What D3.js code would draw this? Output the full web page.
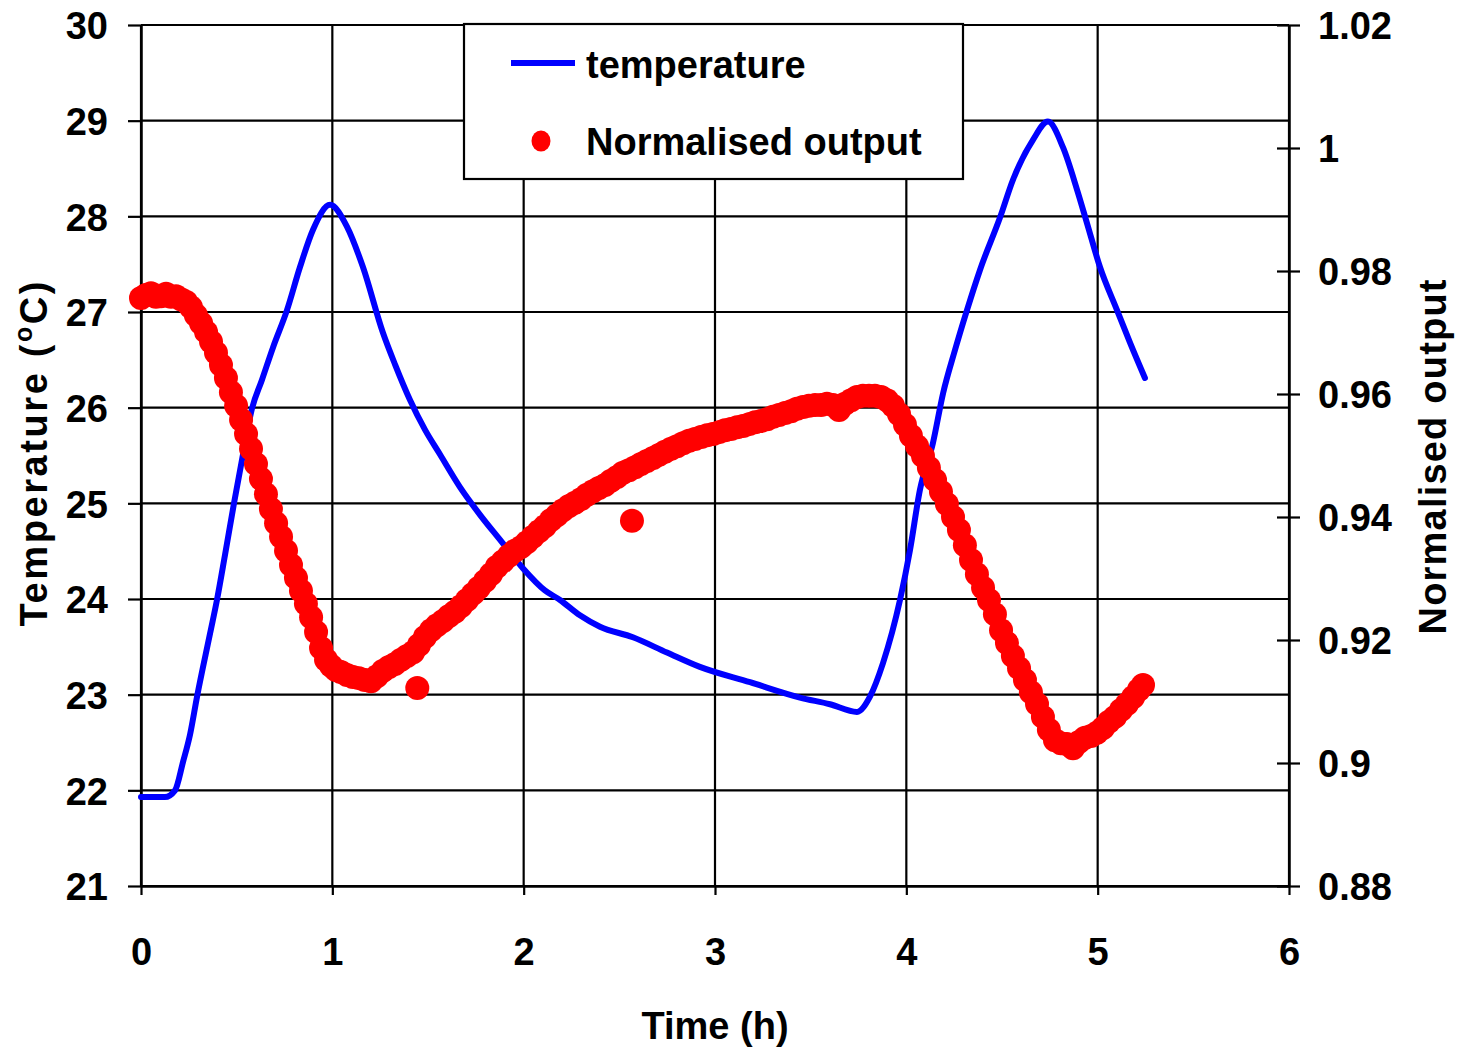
<!DOCTYPE html>
<html>
<head>
<meta charset="utf-8">
<script src="https://cdn.jsdelivr.net/npm/d3@7"></script>
<style>
  html, body { margin: 0; padding: 0; background: #fff; }
  svg text { font-family: Arial, "Liberation Sans", sans-serif; font-weight: bold; fill: #000; }
</style>
</head>
<body>
<svg id="chart" width="1464" height="1048"></svg>
<script>
// Temperature log (time in hours, °C)
const tempTime = [0.000, 0.125, 0.178, 0.220, 0.256, 0.293, 0.361, 0.397, 0.439, 0.486, 0.533, 0.580, 0.632, 0.690, 0.763, 0.831, 0.899, 0.988,
  1.077, 1.160, 1.265, 1.328, 1.406, 1.484, 1.563, 1.667, 1.772, 1.876, 1.997, 2.111, 2.190, 2.294, 2.399, 2.571, 2.749, 2.921, 3.183, 3.444,
  3.601, 3.742, 3.810, 3.878, 3.967, 4.019, 4.071, 4.139, 4.192, 4.254, 4.317, 4.385, 4.490, 4.557, 4.662, 4.740, 4.819, 4.892, 4.944, 5.012,
  5.101, 5.169, 5.247];
const tempValue = [21.93, 21.93, 22.00, 22.30, 22.58, 22.98, 23.64, 23.99, 24.46, 25.00, 25.51, 25.99, 26.29, 26.63, 27.02, 27.47, 27.86, 28.12,
  27.89, 27.47, 26.78, 26.45, 26.08, 25.77, 25.51, 25.17, 24.88, 24.62, 24.32, 24.09, 23.99, 23.83, 23.71, 23.60, 23.44, 23.29, 23.13, 22.97,
  22.90, 22.82, 22.98, 23.33, 23.99, 24.51, 25.14, 25.63, 26.15, 26.60, 27.02, 27.44, 27.99, 28.38, 28.80, 28.99, 28.72, 28.28, 27.93, 27.47,
  27.02, 26.68, 26.31];

// Normalised sensor output (time in hours)
const outTime = [0.000, 0.026, 0.052, 0.078, 0.105, 0.131, 0.157, 0.183, 0.209, 0.235, 0.261, 0.287, 0.314, 0.340, 0.366, 0.392, 0.418, 0.444,
  0.470, 0.497, 0.523, 0.549, 0.575, 0.601, 0.627, 0.653, 0.679, 0.706, 0.732, 0.758, 0.784, 0.810, 0.836, 0.862, 0.889, 0.915, 0.941, 0.967,
  0.993, 1.019, 1.045, 1.077, 1.108, 1.139, 1.171, 1.202, 1.233, 1.265, 1.296, 1.327, 1.359, 1.390, 1.422, 1.444, 1.453, 1.484, 1.516, 1.547,
  1.578, 1.610, 1.641, 1.672, 1.704, 1.735, 1.766, 1.798, 1.829, 1.860, 1.892, 1.923, 1.954, 1.986, 2.017, 2.048, 2.080, 2.111, 2.143, 2.174,
  2.205, 2.237, 2.268, 2.299, 2.331, 2.362, 2.393, 2.425, 2.456, 2.488, 2.519, 2.550, 2.566, 2.582, 2.613, 2.644, 2.676, 2.707, 2.738, 2.770,
  2.801, 2.833, 2.864, 2.895, 2.927, 2.958, 2.989, 3.021, 3.052, 3.083, 3.115, 3.146, 3.178, 3.209, 3.240, 3.272, 3.303, 3.334, 3.366, 3.397,
  3.428, 3.460, 3.491, 3.523, 3.554, 3.585, 3.617, 3.648, 3.679, 3.711, 3.742, 3.773, 3.805, 3.836, 3.868, 3.899, 3.930, 3.962, 3.993, 4.024,
  4.056, 4.087, 4.118, 4.150, 4.181, 4.212, 4.244, 4.275, 4.306, 4.338, 4.369, 4.401, 4.432, 4.463, 4.495, 4.526, 4.557, 4.589, 4.620, 4.651,
  4.683, 4.714, 4.745, 4.777, 4.808, 4.839, 4.871, 4.902, 4.934, 4.965, 4.996, 5.028, 5.059, 5.090, 5.122, 5.153, 5.185, 5.216, 5.237];
const outValue = [0.9756, 0.9761, 0.9764, 0.9758, 0.9759, 0.9763, 0.9758, 0.9759, 0.9754, 0.9750, 0.9741, 0.9728, 0.9715, 0.9701, 0.9685, 0.9667,
  0.9647, 0.9626, 0.9603, 0.9581, 0.9558, 0.9535, 0.9511, 0.9486, 0.9462, 0.9437, 0.9413, 0.9390, 0.9368, 0.9345, 0.9322, 0.9301, 0.9280, 0.9259,
  0.9237, 0.9213, 0.9187, 0.9168, 0.9158, 0.9151, 0.9148, 0.9143, 0.9140, 0.9138, 0.9135, 0.9133, 0.9141, 0.9150, 0.9156, 0.9161, 0.9168, 0.9174,
  0.9180, 0.9122, 0.9192, 0.9205, 0.9216, 0.9224, 0.9231, 0.9239, 0.9246, 0.9255, 0.9265, 0.9275, 0.9285, 0.9296, 0.9307, 0.9319, 0.9328, 0.9337,
  0.9345, 0.9351, 0.9359, 0.9368, 0.9377, 0.9385, 0.9395, 0.9403, 0.9411, 0.9418, 0.9423, 0.9429, 0.9436, 0.9442, 0.9447, 0.9452, 0.9459, 0.9465,
  0.9472, 0.9476, 0.9394, 0.9481, 0.9486, 0.9491, 0.9496, 0.9501, 0.9506, 0.9511, 0.9515, 0.9520, 0.9524, 0.9527, 0.9530, 0.9533, 0.9535, 0.9538,
  0.9541, 0.9543, 0.9546, 0.9548, 0.9551, 0.9554, 0.9556, 0.9559, 0.9563, 0.9566, 0.9569, 0.9572, 0.9576, 0.9579, 0.9581, 0.9582, 0.9582, 0.9584,
  0.9582, 0.9574, 0.9584, 0.9590, 0.9595, 0.9597, 0.9597, 0.9597, 0.9595, 0.9590, 0.9581, 0.9567, 0.9550, 0.9532, 0.9515, 0.9499, 0.9480, 0.9460,
  0.9441, 0.9421, 0.9400, 0.9379, 0.9354, 0.9330, 0.9307, 0.9285, 0.9265, 0.9242, 0.9216, 0.9195, 0.9174, 0.9154, 0.9135, 0.9115, 0.9096, 0.9075,
  0.9054, 0.9037, 0.9032, 0.9031, 0.9024, 0.9034, 0.9041, 0.9044, 0.9049, 0.9057, 0.9067, 0.9075, 0.9086, 0.9096, 0.9107, 0.9119, 0.9127];

// Axis ticks
const timeTicks = [0, 1, 2, 3, 4, 5, 6];
const tempTicks = [21, 22, 23, 24, 25, 26, 27, 28, 29, 30];
const outTicks = [0.88, 0.9, 0.92, 0.94, 0.96, 0.98, 1, 1.02];

const legendItems = ["temperature", "Normalised output"];

const FONT = 38;
const svg = d3.select("#chart");
const plot = { left: 141, right: 1289, top: 25, bottom: 886 };

const x = d3.scaleLinear().domain([0, 6]).range([plot.left, plot.right]);
const yT = d3.scaleLinear().domain([21, 30]).range([plot.bottom, plot.top]);
const yN = d3.scaleLinear().domain([0.88, 1.02]).range([plot.bottom, plot.top]);

// Grid lines
const grid = svg.append("g").attr("stroke", "#000").attr("stroke-width", 2.2);
grid.selectAll("line.h").data(tempTicks).join("line")
  .attr("x1", plot.left).attr("x2", plot.right)
  .attr("y1", d => yT(d)).attr("y2", d => yT(d));
grid.selectAll("line.v").data(timeTicks).join("line")
  .attr("x1", d => x(d)).attr("x2", d => x(d))
  .attr("y1", plot.top).attr("y2", plot.bottom);

// Axes
const fmtN = d => d === 1 ? "1" : String(d);
const axisBottom = svg.append("g").attr("transform", `translate(0,${plot.bottom})`)
  .call(d3.axisBottom(x).tickValues(timeTicks).tickFormat(d3.format("d")).tickSize(9).tickSizeOuter(0).tickPadding(43));
const axisLeft = svg.append("g").attr("transform", `translate(${plot.left},0)`)
  .call(d3.axisLeft(yT).tickValues(tempTicks).tickSize(13).tickSizeOuter(0).tickPadding(20));
const axisRight = svg.append("g").attr("transform", `translate(${plot.right},0)`)
  .call(d3.axisRight(yN).tickValues(outTicks).tickFormat(fmtN).tickSize(11).tickSizeOuter(0).tickPadding(18));
axisRight.selectAll(".tick line").attr("x1", -12);

[axisBottom, axisLeft, axisRight].forEach(a => {
  a.select(".domain").attr("stroke", "#000").attr("stroke-width", 2.5);
  a.selectAll(".tick line").attr("stroke", "#000").attr("stroke-width", 2.2);
  a.selectAll(".tick text").attr("font-size", FONT).attr("font-family", "Arial, 'Liberation Sans', sans-serif")
    .attr("font-weight", "bold").attr("fill", "#000");
});
axisBottom.selectAll(".tick text").attr("dy", "0.71em");
axisLeft.selectAll(".tick text").attr("dy", "0.36em");
axisRight.selectAll(".tick text").attr("dy", "0.36em");

// Temperature trace
const tempData = tempTime.map((t, i) => ({ t, v: tempValue[i] }));
svg.append("path").datum(tempData)
  .attr("fill", "none").attr("stroke", "#0000ff").attr("stroke-width", 6)
  .attr("stroke-linejoin", "round").attr("stroke-linecap", "round")
  .attr("d", d3.line().curve(d3.curveMonotoneX).x(d => x(d.t)).y(d => yT(d.v)));

// Normalised output markers
const outData = outTime.map((t, i) => ({ t, v: outValue[i] }));
svg.append("g").attr("fill", "#ff0000").selectAll("circle").data(outData).join("circle")
  .attr("cx", d => x(d.t)).attr("cy", d => yN(d.v)).attr("r", 12);

// Axis titles
svg.append("text").attr("x", (plot.left + plot.right) / 2).attr("y", 1039)
  .attr("text-anchor", "middle").attr("font-size", FONT).text("Time (h)");

const leftTitle = svg.append("text")
  .attr("transform", "translate(47,454) rotate(-90)")
  .attr("text-anchor", "middle").attr("font-size", FONT)
  .attr("textLength", 345).attr("lengthAdjust", "spacing");
leftTitle.append("tspan").text("Temperature (");
leftTitle.append("tspan").attr("font-size", 25).attr("dy", -15).text("o");
leftTitle.append("tspan").attr("dy", 15).text("C)");

svg.append("text")
  .attr("transform", "translate(1446,457) rotate(-90)")
  .attr("text-anchor", "middle").attr("font-size", FONT)
  .attr("textLength", 355).attr("lengthAdjust", "spacing").text("Normalised output");

// Legend
const lg = svg.append("g");
lg.append("rect").attr("x", 464).attr("y", 24).attr("width", 499).attr("height", 155)
  .attr("fill", "#fff").attr("stroke", "#000").attr("stroke-width", 2.2);
lg.append("line").attr("x1", 511).attr("x2", 575).attr("y1", 63).attr("y2", 63)
  .attr("stroke", "#0000ff").attr("stroke-width", 6);
lg.append("ellipse").attr("cx", 541).attr("cy", 141).attr("rx", 9.5).attr("ry", 10.5).attr("fill", "#ff0000");
lg.selectAll("text").data(legendItems).join("text")
  .attr("x", 586).attr("y", (d, i) => 78 + i * 77)
  .attr("font-size", FONT).text(d => d);
</script>
</body>
</html>
